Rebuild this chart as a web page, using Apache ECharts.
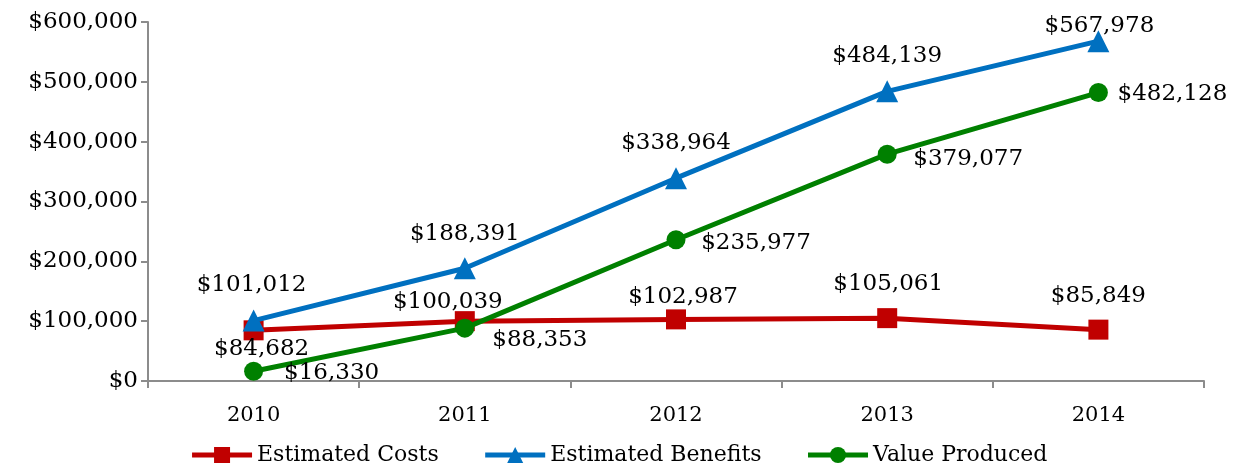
<!DOCTYPE html>
<html>
<head>
<meta charset="utf-8">
<script src="https://cdn.jsdelivr.net/npm/echarts@6/dist/echarts.min.js"></script>
<style>
    html, body {margin: 0; padding: 0; background: #fff;}
    #chart {width: 1237px; height: 467px;}
</style>
</head>
<body>
<div id="chart"></div>
<script>
var years = ['2010', '2011', '2012', '2013', '2014'];
var costs = [84682, 100039, 102987, 105061, 85849];
var benefits = [101012, 188391, 338964, 484139, 567978];
var valueProduced = [16330, 88353, 235977, 379077, 482128];

// label offsets from each point (px)
var costsOffset = [[8, 19], [-17, -19], [7, -22], [1, -34], [0, -34]];
var benefitsOffset = [[-2, -36], [0, -34], [0, -35], [0, -35], [1, -15]];
var valueOffset = [[78, 2], [75, 12], [80, 3], [81, 5], [74, 2]];

var FONT = 'DejaVu Serif';

function money(v) {
    return '$' + String(v).replace(/\B(?=(\d{3})+(?!\d))/g, ',');
}

function withLabels(values, offsets) {
    return values.map(function (v, i) {
        return {value: v, label: {offset: offsets[i]}};
    });
}

var chart = echarts.init(document.getElementById('chart'));

var labelBase = {
    show: true,
    position: 'inside',
    color: '#000',
    fontFamily: FONT,
    fontSize: 23,
    formatter: function (p) { return money(p.value); }
};

chart.setOption({
    backgroundColor: '#fff',
    animation: false,
    grid: {left: 148, right: 33, top: 22, bottom: 86},
    legend: {
        top: 439,
        left: 'center',
        itemWidth: 60,
        itemHeight: 20,
        itemGap: 44,
        lineStyle: {width: 5},
        textStyle: {fontFamily: FONT, fontSize: 22, color: '#000'},
        data: ['Estimated Costs', 'Estimated Benefits', 'Value Produced']
    },
    xAxis: {
        type: 'category',
        data: years,
        boundaryGap: true,
        axisLine: {lineStyle: {color: '#8c8c8c', width: 2}},
        axisTick: {show: true, length: 7, lineStyle: {color: '#8c8c8c', width: 2}},
        axisLabel: {fontFamily: FONT, fontSize: 21, color: '#000', margin: 24},
        splitLine: {show: false}
    },
    yAxis: {
        type: 'value',
        min: 0,
        max: 600000,
        interval: 100000,
        axisLine: {show: true, lineStyle: {color: '#8c8c8c', width: 2}},
        axisTick: {show: true, length: 7, lineStyle: {color: '#8c8c8c', width: 2}},
        axisLabel: {fontFamily: FONT, fontSize: 23, color: '#000', margin: 10, formatter: money},
        splitLine: {show: false}
    },
    series: [
        {
            name: 'Estimated Costs',
            type: 'line',
            data: withLabels(costs, costsOffset),
            symbol: 'rect',
            symbolSize: 20,
            lineStyle: {color: '#C00000', width: 5},
            itemStyle: {color: '#C00000'},
            label: labelBase,
            z: 2
        },
        {
            name: 'Estimated Benefits',
            type: 'line',
            data: withLabels(benefits, benefitsOffset),
            symbol: 'triangle',
            symbolSize: 22,
            lineStyle: {color: '#0070C0', width: 5},
            itemStyle: {color: '#0070C0'},
            label: labelBase,
            z: 3
        },
        {
            name: 'Value Produced',
            type: 'line',
            data: withLabels(valueProduced, valueOffset),
            symbol: 'circle',
            symbolSize: 19,
            lineStyle: {color: '#008000', width: 5},
            itemStyle: {color: '#008000'},
            label: labelBase,
            z: 4
        }
    ]
});
</script>
</body>
</html>
